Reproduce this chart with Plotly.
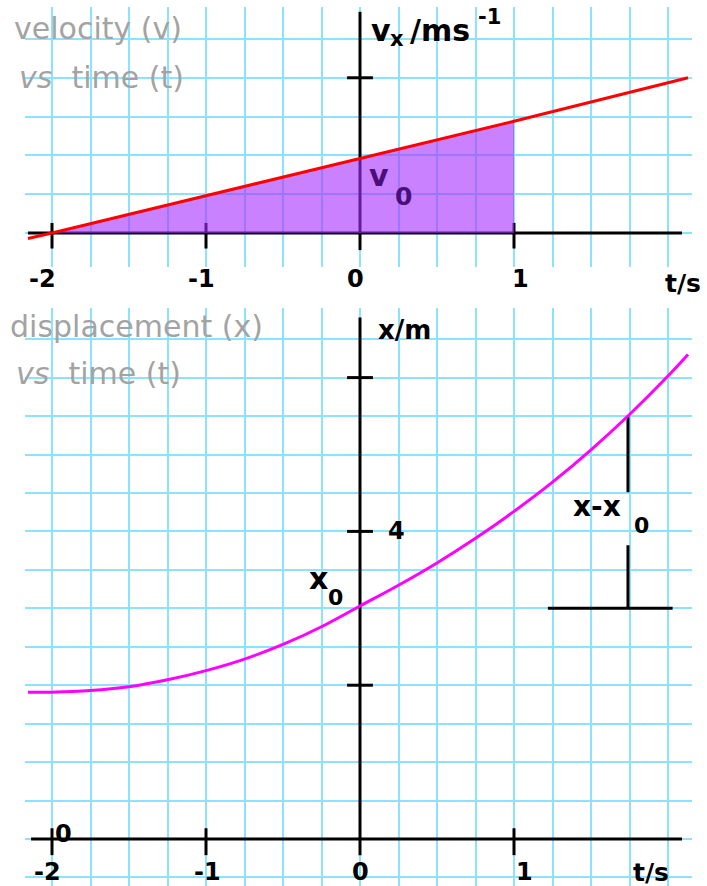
import plotly.graph_objects as go

# ---- data ----
# velocity vs time (m/s)
t_vel = [-2.156, -2.0, 0.0, 1.0, 2.13]
v_vel = [-0.07, 0.0, 0.96, 1.44, 2.0]
# shaded area under v(t) between t = -2 s and t = 1 s
t_area = [-2.0, 0.0, 1.0]
v_area = [0.0, 0.96, 1.44]

# displacement vs time (m)
t_disp = [-2.156, -2.0, -1.75, -1.5, -1.25, -1.0, -0.75, -0.5, -0.25, 0.0,
          0.25, 0.5, 0.75, 1.0, 1.25, 1.5, 1.75, 2.0, 2.13]
x_disp = [1.91, 1.91, 1.93, 1.98, 2.07, 2.19, 2.34, 2.53, 2.76, 3.03,
          3.30, 3.59, 3.91, 4.26, 4.64, 5.06, 5.52, 6.02, 6.30]

x0_value = 3.0          # displacement at t = 0
t_marker = 1.74         # time of the x - x0 bracket
x_marker = 5.5          # displacement at t_marker

time_ticks = [-2, -1, 0, 1]
vel_ticks = [2]
disp_ticks = [2, 4, 6]
disp_tick_labels = {4: "4"}

W, H = 707, 886
GRID = "#8ce3ff"
FONT = "DejaVu Sans"
GREY = "#a3a3a3"
PURPLE_TEXT = "#4a0f78"


def px(x):
    return x / W


def py(y):
    return 1 - y / H


fig = go.Figure()

# velocity panel
fig.add_trace(go.Scatter(x=t_area, y=v_area, mode="lines", fill="tozeroy",
                         fillcolor="rgba(165,45,255,0.6)", line=dict(width=0),
                         xaxis="x", yaxis="y", hoverinfo="skip"))
fig.add_trace(go.Scatter(x=t_vel, y=v_vel, mode="lines",
                         line=dict(color="#ff0000", width=3),
                         xaxis="x", yaxis="y"))

# displacement panel
fig.add_trace(go.Scatter(x=t_disp, y=x_disp, mode="lines",
                         line=dict(color="#ff00ff", width=3, shape="spline"),
                         xaxis="x2", yaxis="y2"))

shapes = []


def seg(xr, yr, x0, y0, x1, y1, w=3):
    shapes.append(dict(type="line", xref=xr, yref=yr, x0=x0, y0=y0, x1=x1, y1=y1,
                       line=dict(color="black", width=w), layer="between"))


# axes of the velocity panel
seg("x", "y", -2.156, 0, 2.091, 0)
seg("x", "y", 0, -0.22, 0, 2.85)
for t in time_ticks:
    if t != 0:
        seg("x", "y", t, -0.2, t, 0.13)
for v in vel_ticks:
    seg("x", "y", -0.084, v, 0.084, v)

# axes of the displacement panel
seg("x2", "y2", -2.136, 0, 2.091, 0)
seg("x2", "y2", 0, -0.21, 0, 6.78)
for t in time_ticks:
    if t != 0:
        seg("x2", "y2", t, -0.21, t, 0.14)
for d in disp_ticks:
    seg("x2", "y2", -0.084, d, 0.084, d)

# x - x0 bracket
seg("x2", "y2", t_marker, x_marker, t_marker, 4.51)
seg("x2", "y2", t_marker, 3.82, t_marker, x0_value)
seg("x2", "y2", 1.22, x0_value, 2.03, x0_value)

annotations = []


def text(x, y, s, size, color="black", anchor="center", bold=True):
    annotations.append(dict(
        x=px(x), y=py(y), xref="paper", yref="paper", text=s,
        showarrow=False, xanchor=anchor, yanchor="middle",
        font=dict(family=FONT, size=size, color=color,
                  weight="bold" if bold else "normal")))


# panel titles
text(12, 29, "velocity (v)", 30, GREY, "left", bold=False)
text(17, 77, "<i>vs</i>&nbsp;&nbsp;time (t)", 30, GREY, "left", bold=False)
text(8, 327, "displacement (x)", 30, GREY, "left", bold=False)
text(14, 374, "<i>vs</i>&nbsp;&nbsp;time (t)", 30, GREY, "left", bold=False)

# time tick labels
top_shift = {-2: -10, -1: -5, 0: -4, 1: 6}
bot_shift = {-2: -5, -1: 1, 0: 0, 1: 10}
for t in time_ticks:
    text(360 + 154 * t + top_shift[t], 279, str(t), 24)
    text(360 + 154 * t + bot_shift[t], 872, str(t), 24)
text(683, 283, "t/s", 25)
text(651, 872, "t/s", 25)

# velocity axis title: v_x / m s^-1
text(381, 30, "v", 30)
text(397, 39, "x", 21)
text(440, 30, "/ms", 30)
text(490, 17, "-1", 21)

# displacement axis title and tick labels
text(404, 330, "x/m", 26)
for d, lab in disp_tick_labels.items():
    text(396, 839 - 76.9 * d, lab, 24)
text(63, 834, "0", 24)

# quantity labels
text(379, 176, "v", 30, PURPLE_TEXT)
text(403, 196, "0", 25, PURPLE_TEXT)
text(318, 578, "x", 30)
text(335, 597, "0", 22)
text(597, 506, "x-x", 28)
text(641, 525, "0", 22)

axis_common = dict(showgrid=True, gridcolor=GRID, gridwidth=2, zeroline=False,
                   showline=False, showticklabels=False, ticks="")

fig.update_layout(
    width=W, height=H, margin=dict(l=0, r=0, t=0, b=0),
    paper_bgcolor="white", plot_bgcolor="white", showlegend=False,
    xaxis=dict(domain=[px(25), px(692)], range=[-2.1753, 2.1558], dtick=0.25,
               tick0=0, anchor="y", **axis_common),
    yaxis=dict(domain=[py(267), py(7)], range=[-0.438, 2.912], dtick=0.5,
               tick0=0, anchor="x", **axis_common),
    xaxis2=dict(domain=[px(25), px(692)], range=[-2.1753, 2.1558], dtick=0.25,
                tick0=0, anchor="y2", **axis_common),
    yaxis2=dict(domain=[0, py(308)], range=[-0.611, 6.905], dtick=0.5,
                tick0=0, anchor="x2", **axis_common),
    shapes=shapes, annotations=annotations,
)

fig.write_html("out.html")
